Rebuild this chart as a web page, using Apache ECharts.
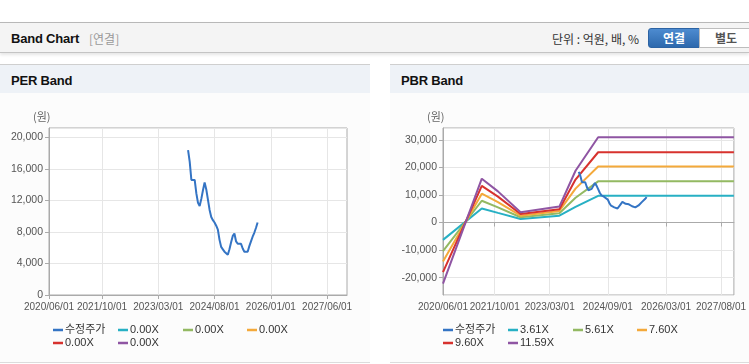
<!DOCTYPE html>
<html><head><meta charset="utf-8">
<script src="https://cdn.jsdelivr.net/npm/echarts@6/dist/echarts.min.js"></script>
<style>
html,body{margin:0;padding:0;width:749px;height:364px;overflow:hidden;background:#fff;font-family:'Liberation Sans','Noto Sans CJK KR',sans-serif;}
.abs{position:absolute;}
#hdr{left:0;top:22px;width:749px;height:29px;background:#f4f4f4;border-top:1px solid #b8b8b8;border-bottom:1px solid #c4c4c4;box-shadow:0 2px 3px rgba(0,0,0,0.10);}
.ttl{font-weight:bold;font-size:13px;color:#111;letter-spacing:-0.2px;}
#sub{left:89px;top:30px;font-size:12px;color:#999;font-family:'Noto Sans CJK KR',sans-serif;}
#unit{left:552px;top:30px;font-size:12px;color:#333;font-family:'Noto Sans CJK KR',sans-serif;}
.btn{top:28px;height:18px;font-size:12px;font-weight:bold;text-align:center;line-height:18px;font-family:'Noto Sans CJK KR',sans-serif;}
#b1{left:648px;width:50px;background:linear-gradient(#4d8bd0,#2d69ad);border:1px solid #2c63a3;border-radius:3px 0 0 3px;color:#fff;}
#b2{left:699px;width:52px;background:#fff;border:1px solid #bdbdbd;color:#555;}
.panel{top:64px;height:297px;background:#fcfcfc;border-top:1px solid #cfcfcf;border-bottom:1px solid #dcdcdc;}
.pt{position:absolute;left:0;top:0;width:100%;height:28px;background:#eef2f7;}
.pt span{position:absolute;left:11px;top:8px;}
#chart{left:0;top:0;width:749px;height:364px;}
</style></head>
<body>
<div id="hdr" class="abs"><span class="abs ttl" style="left:11px;top:8px;">Band Chart</span></div>
<div id="sub" class="abs">[연결]</div>
<div id="unit" class="abs">단위 : 억원, 배, %</div>
<div id="b1" class="abs btn">연결</div>
<div id="b2" class="abs btn">별도</div>
<div class="abs panel" style="left:0;width:370px;"><div class="pt"><span class="ttl">PER Band</span></div></div>
<div class="abs panel" style="left:390px;width:359px;"><div class="pt"><span class="ttl">PBR Band</span></div></div>
<div id="chart" class="abs"></div>
<script>
// ---- data ----
const priceDates = ['2023/12/01','2023/12/16','2024/01/01','2024/01/16','2024/02/01','2024/02/16','2024/03/01','2024/03/16','2024/04/01','2024/04/16','2024/05/01','2024/05/16','2024/06/01','2024/06/16','2024/07/01','2024/07/16','2024/08/01','2024/08/16','2024/09/01','2024/09/16','2024/10/01','2024/10/16','2024/11/01','2024/11/16','2024/12/01','2024/12/16','2025/01/01','2025/01/16','2025/02/01','2025/02/16','2025/03/01','2025/03/16','2025/04/01','2025/04/16','2025/05/01','2025/05/16','2025/06/01','2025/06/16','2025/07/01','2025/07/16','2025/08/01','2025/08/16','2025/09/01'];
const priceValues = [18400,16900,14600,14600,14600,12900,11700,11300,12200,13300,14300,13400,12100,10800,9900,9500,9200,8800,8300,7000,6100,5800,5500,5300,5100,5800,6700,7500,7800,6800,6500,6600,6500,5900,5500,5500,5500,6200,6800,7400,7900,8500,9200];
const bandDates = ['2020/06/01','2021/06/01','2021/11/01','2022/06/01','2023/06/01','2023/11/01','2024/06/01','2027/12/01'];
const pbr361 = [-6300,5100,3500,1300,2500,5700,9700,9700];
const pbr561 = [-10400,7900,5500,1900,3400,9000,14950,14950];
const pbr760 = [-14100,10450,7400,2500,4200,12300,20300,20300];
const pbr960 = [-18000,13300,9400,3100,4800,15600,25500,25500];
const pbr1159 = [-22200,15900,11300,3700,5800,18800,30950,30950];
const perBands = [[],[],[],[],[]];
const perLegendLabels = ['수정주가','0.00X','0.00X','0.00X','0.00X','0.00X'];
const pbrLegendLabels = ['수정주가','3.61X','5.61X','7.60X','9.60X','11.59X'];
const perTickLabels = ['2020/06/01','2021/10/01','2023/03/01','2024/08/01','2026/01/01','2027/06/01'];
const pbrTickLabels = ['2020/06/01','2021/10/01','2023/03/01','2024/09/01','2026/03/01','2027/08/01'];
const colors = ['#3474c4','#27b0c4','#93b962','#f4a93a','#d7322e','#8f55a3'];

// semi-monthly category axis 2020/06/01 .. 2027/12/01
const categories = [];
for (let y = 2020, m = 6; y < 2027 || (y === 2027 && m <= 12); m++) {
  if (m > 12) { m = 1; y++; }
  const mm = String(m).padStart(2, '0');
  categories.push(y + '/' + mm + '/01');
  if (!(y === 2027 && m === 12)) categories.push(y + '/' + mm + '/16');
}
const zip = (xs, ys) => xs.map((x, i) => [x, ys[i]]);

const chart = echarts.init(document.getElementById('chart'), null, {renderer: 'canvas'});
const labelFont = {fontFamily: "'Liberation Sans',sans-serif", fontSize: 10, color: '#555'};
function xAxisFor(gridIndex, ticks) {
  const f = (idx, val) => ticks.includes(categories[idx]);
  return {
    type: 'category', gridIndex, data: categories, boundaryGap: false,
    axisLine: {lineStyle: {color: '#aaa'}},
    axisTick: {show: true, interval: f, length: 4, lineStyle: {color: '#aaa'}},
    axisLabel: Object.assign({interval: f, margin: 7, hideOverlap: false, showMinLabel: true}, labelFont),
    splitLine: {show: true, interval: f, lineStyle: {color: '#e6e6e6'}}
  };
}
function yAxisFor(gridIndex, extra) {
  return Object.assign({
    type: 'value', gridIndex,
    axisLine: {show: true, lineStyle: {color: '#aaa'}},
    axisTick: {show: true, length: 4, lineStyle: {color: '#aaa'}},
    axisLabel: Object.assign({margin: 6, showMinLabel: gridIndex === 0, showMaxLabel: false,
      formatter: v => Number(v).toLocaleString('en-US')}, labelFont, {fontSize: 10.5}),
    splitLine: {show: true, lineStyle: {color: '#e6e6e6'}}
  }, extra);
}
const series = [];
series.push({name: 'per_price', type: 'line', xAxisIndex: 0, yAxisIndex: 0, data: zip(priceDates, priceValues),
  showSymbol: false, lineStyle: {width: 2, color: colors[0]}, itemStyle: {color: colors[0]}, z: 3});
perBands.forEach((b, i) => series.push({name: 'per_b' + (i + 1), type: 'line', xAxisIndex: 0, yAxisIndex: 0, data: b,
  showSymbol: false, lineStyle: {width: 2, color: colors[i + 1]}, itemStyle: {color: colors[i + 1]}}));
[pbr361, pbr561, pbr760, pbr960, pbr1159].forEach((b, i) => series.push({name: 'pbr_b' + (i + 1), type: 'line', xAxisIndex: 1, yAxisIndex: 1,
  data: zip(bandDates, b), showSymbol: false, lineStyle: {width: 2, color: colors[i + 1]}, itemStyle: {color: colors[i + 1]}}));
series.push({name: 'pbr_price', type: 'line', xAxisIndex: 1, yAxisIndex: 1, data: zip(priceDates, priceValues),
  showSymbol: false, lineStyle: {width: 2, color: colors[0]}, itemStyle: {color: colors[0]}, z: 3});

const legends = [];
const perCols = [53, 118, 183, 247], pbrCols = [443, 508, 573, 637];
function addLegends(prefix, labels, cols) {
  const keys = [prefix + '_price', prefix + '_b1', prefix + '_b2', prefix + '_b3', prefix + '_b4', prefix + '_b5'];
  keys.forEach((k, i) => {
    const row = i < 4 ? 0 : 1, col = i < 4 ? i : i - 4;
    legends.push({data: [k], left: cols[col], top: row === 0 ? 323 : 336, icon: 'rect', itemWidth: 10, itemHeight: 2.5,
      selectedMode: false, padding: 0,
      formatter: () => labels[i],
      textStyle: {fontSize: 11, color: '#333', lineHeight: 14, padding: [0, 0, 0, -3],
        fontFamily: "'Liberation Sans','Noto Sans CJK KR',sans-serif"}});
  });
}
addLegends('per', perLegendLabels, perCols);
addLegends('pbr', pbrLegendLabels, pbrCols);

chart.setOption({
  animation: false,
  backgroundColor: 'transparent',
  grid: [
    {left: 49, top: 128, width: 298, height: 167, show: true, borderColor: '#aaa', borderWidth: 1, backgroundColor: '#fff'},
    {left: 443, top: 128, width: 294, height: 167, show: true, borderColor: '#aaa', borderWidth: 1, backgroundColor: '#fff'}
  ],
  xAxis: [xAxisFor(0, perTickLabels), xAxisFor(1, pbrTickLabels)],
  yAxis: [yAxisFor(0, {min: 0, max: 21200, interval: 4000}), yAxisFor(1, {min: -26300, max: 34300, splitNumber: 6})],
  legend: legends,
  graphic: [
    {type: 'text', left: 33, top: 111, style: {text: '(원)', fontSize: 11, fill: '#666', fontFamily: "'Noto Sans CJK KR',sans-serif"}},
    {type: 'text', left: 427, top: 111, style: {text: '(원)', fontSize: 11, fill: '#666', fontFamily: "'Noto Sans CJK KR',sans-serif"}}
  ],
  series
});
</script>
</body></html>
